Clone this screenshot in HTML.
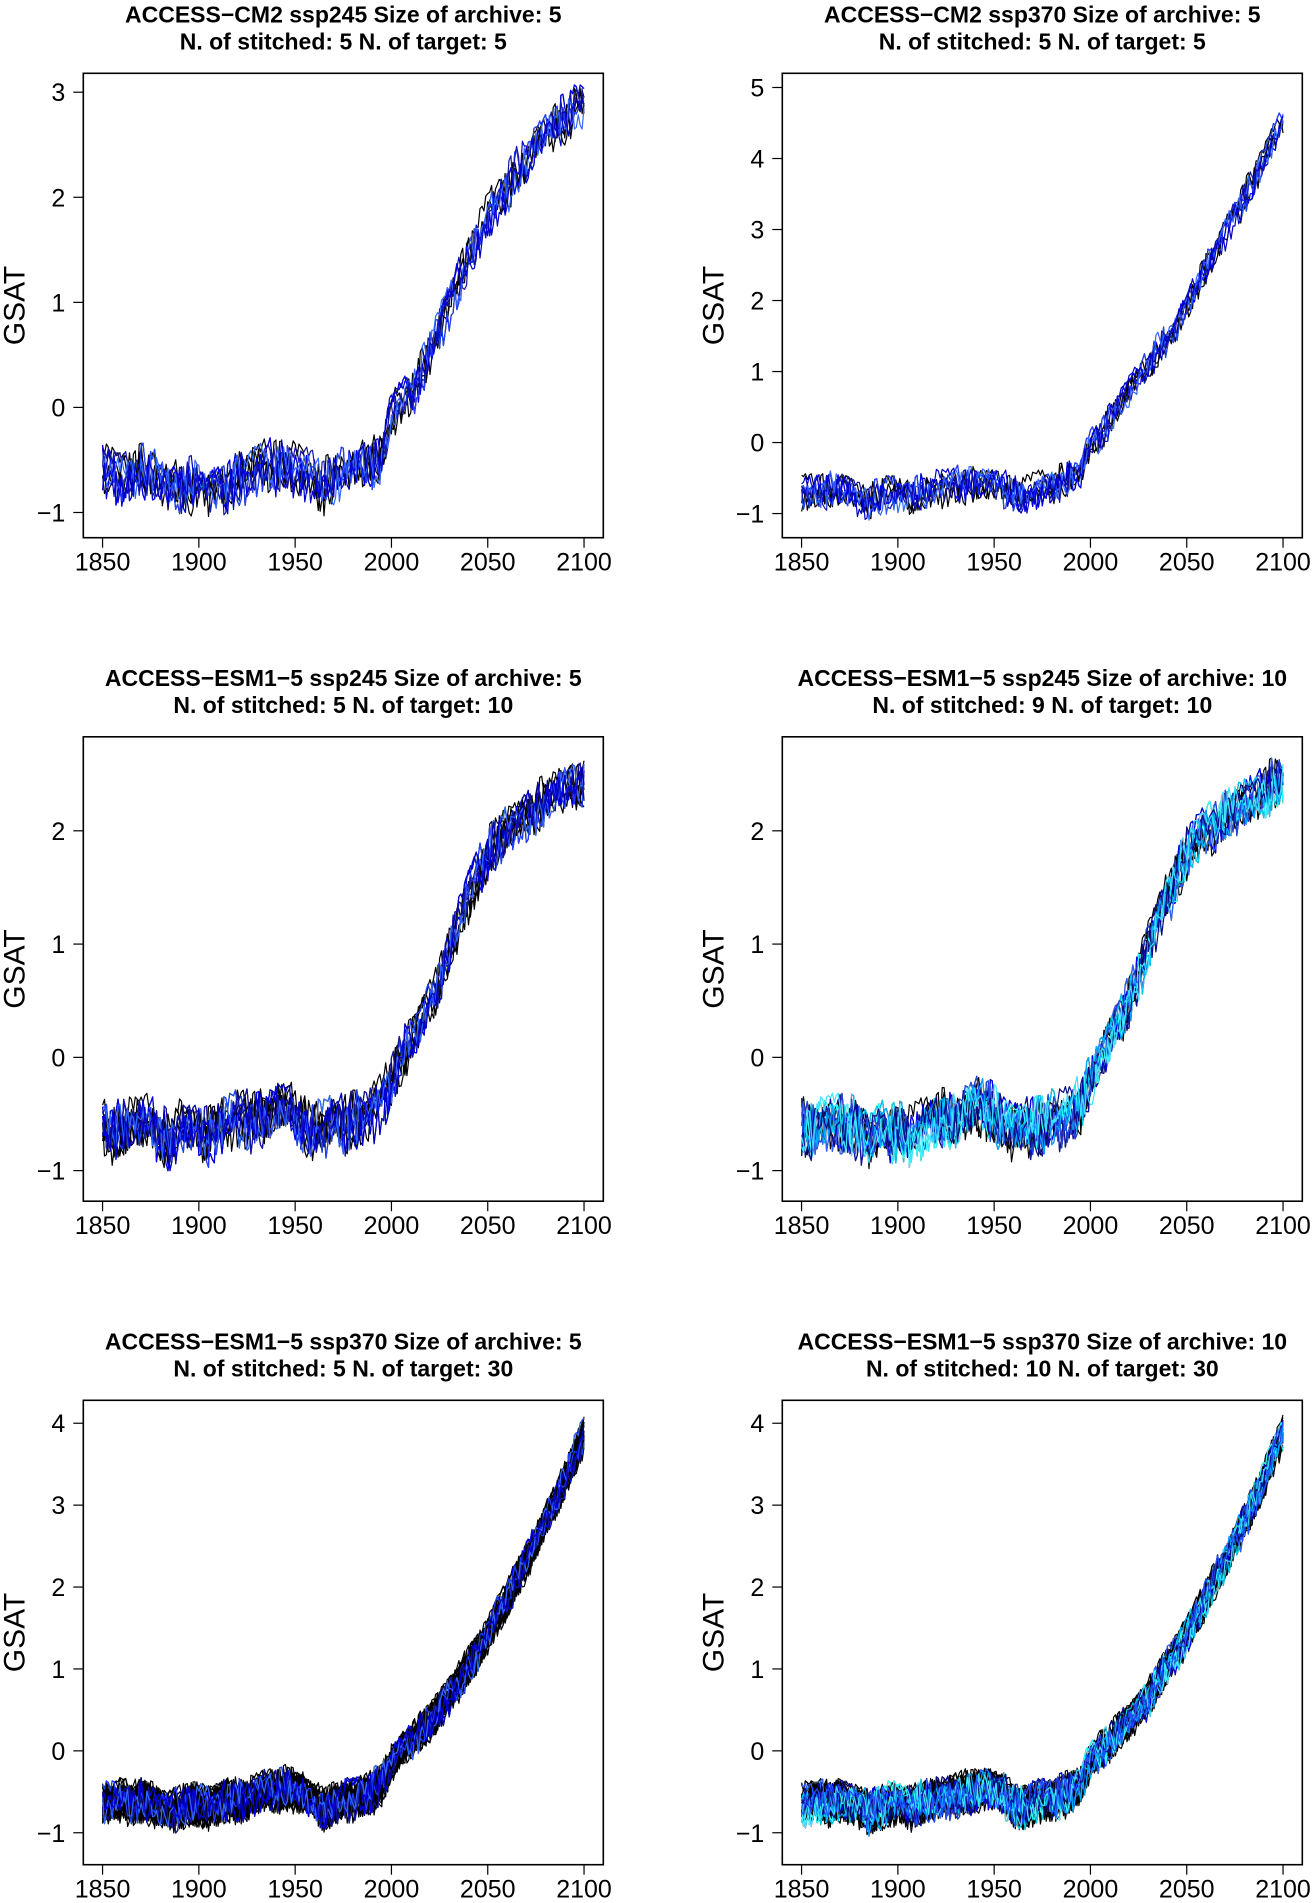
<!DOCTYPE html>
<html><head><meta charset="utf-8"><style>
html,body{margin:0;padding:0;background:#fff;}
svg{display:block;font-family:"Liberation Sans",Arial,sans-serif;}
</style></head><body>
<svg id="fig" width="1314" height="1903" viewBox="0 0 1314 1903"></svg>
<script>
// ---- data (5-year steps, 1850..2100) ----
const years5 = [1850,1855,1860,1865,1870,1875,1880,1885,1890,1895,1900,1905,1910,1915,1920,1925,1930,1935,1940,1945,1950,1955,1960,1965,1970,1975,1980,1985,1990,1995,2000,2005,2010,2015,2020,2025,2030,2035,2040,2045,2050,2055,2060,2065,2070,2075,2080,2085,2090,2095,2100];
const meanCM2_245 = [-0.6,-0.65,-0.7,-0.65,-0.6,-0.65,-0.7,-0.8,-0.75,-0.75,-0.7,-0.8,-0.75,-0.75,-0.65,-0.65,-0.6,-0.55,-0.55,-0.55,-0.6,-0.65,-0.7,-0.75,-0.7,-0.65,-0.6,-0.55,-0.5,-0.45,-0.05,0.05,0.15,0.3,0.5,0.75,0.95,1.2,1.4,1.6,1.8,1.95,2.1,2.25,2.35,2.5,2.6,2.7,2.75,2.85,2.85];
const meanCM2_370 = [-0.7,-0.7,-0.7,-0.65,-0.65,-0.7,-0.8,-0.8,-0.75,-0.75,-0.75,-0.75,-0.7,-0.7,-0.65,-0.65,-0.6,-0.6,-0.6,-0.6,-0.6,-0.65,-0.7,-0.7,-0.7,-0.65,-0.6,-0.55,-0.5,-0.45,-0.05,0.1,0.3,0.5,0.7,0.9,1.1,1.3,1.5,1.7,1.95,2.2,2.45,2.7,2.95,3.2,3.45,3.7,3.95,4.25,4.5];
const meanESM_245 = [-0.6,-0.65,-0.6,-0.6,-0.6,-0.6,-0.65,-0.75,-0.65,-0.65,-0.65,-0.7,-0.65,-0.6,-0.55,-0.55,-0.55,-0.5,-0.45,-0.45,-0.5,-0.6,-0.65,-0.65,-0.6,-0.6,-0.55,-0.55,-0.5,-0.4,-0.2,0.0,0.15,0.3,0.5,0.7,0.95,1.2,1.4,1.6,1.8,1.9,2.0,2.05,2.15,2.2,2.25,2.3,2.35,2.4,2.45];
const meanESM_370 = [-0.65,-0.65,-0.6,-0.65,-0.6,-0.65,-0.7,-0.75,-0.7,-0.65,-0.65,-0.7,-0.65,-0.6,-0.6,-0.6,-0.55,-0.5,-0.5,-0.45,-0.5,-0.55,-0.65,-0.7,-0.65,-0.6,-0.6,-0.55,-0.5,-0.4,-0.15,0.0,0.1,0.25,0.35,0.5,0.65,0.85,1.05,1.2,1.4,1.65,1.85,2.1,2.3,2.55,2.8,3.05,3.3,3.6,3.85];
const noise = [0.3,-0.8,0.5,0.9,-0.2,-0.6,0.7,-0.9,0.1,0.4,-0.5,0.8,-0.3,-0.7,0.6,0.2,-0.9,0.5,-0.1,0.9,-0.4,0.3,-0.8,0.7,0.0,-0.6,0.8,-0.2,0.4,-1.0,0.6,0.1,-0.5,0.9,-0.3,0.2,-0.7,0.5,0.8,-0.4,-0.1,0.6,-0.9,0.3,0.7,-0.5,0.2,-0.8,0.9,-0.2,0.4,-0.6,0.1,0.8,-0.7,0.5,-0.3,0.0,0.7,-0.9,0.6,-0.4,0.2,0.9,-0.6,0.3,-0.1,-0.8,0.5,0.7,-0.5,0.1,-0.3,0.8,-0.9,0.4,0.2,-0.6,0.9,-0.2,-0.4,0.6,-0.8,0.3,0.5,-0.7,0.0,0.8,-0.5,0.2,-0.9,0.7,0.4,-0.3,-0.6,0.9,0.1];
const xTicks = [1850,1900,1950,2000,2050,2100];
const leftBlues = ["#0000ee","#2040ff","#1515a5","#3366ff","#0000cc"];
const rightBlues = ["#0000ee","#1010a0","#3060ff","#00ccee","#33ffff","#2244dd","#00aaff","#0a0a80","#40e0ff","#1a50ff"];

const panels = [
 {name:"cm2-ssp245",t1:"ACCESS\u2212CM2 ssp245 Size of archive: 5",t2:"N. of stitched: 5 N. of target: 5",x:83.3,y:73.3,ylim:[-1.24,3.18],yt:[-1,0,1,2,3],mean:meanCM2_245,nT:5,nS:5,cols:leftBlues},
 {name:"cm2-ssp370",t1:"ACCESS\u2212CM2 ssp370 Size of archive: 5",t2:"N. of stitched: 5 N. of target: 5",x:782.3,y:73.3,ylim:[-1.34,5.2],yt:[-1,0,1,2,3,4,5],mean:meanCM2_370,nT:5,nS:5,cols:leftBlues},
 {name:"esm-ssp245-a5",t1:"ACCESS\u2212ESM1\u22125 ssp245 Size of archive: 5",t2:"N. of stitched: 5 N. of target: 10",x:83.3,y:736.8,ylim:[-1.27,2.83],yt:[-1,0,1,2],mean:meanESM_245,nT:10,nS:5,cols:leftBlues},
 {name:"esm-ssp245-a10",t1:"ACCESS\u2212ESM1\u22125 ssp245 Size of archive: 10",t2:"N. of stitched: 9 N. of target: 10",x:782.3,y:736.8,ylim:[-1.27,2.83],yt:[-1,0,1,2],mean:meanESM_245,nT:10,nS:9,cols:rightBlues},
 {name:"esm-ssp370-a5",t1:"ACCESS\u2212ESM1\u22125 ssp370 Size of archive: 5",t2:"N. of stitched: 5 N. of target: 30",x:83.3,y:1400.3,ylim:[-1.39,4.28],yt:[-1,0,1,2,3,4],mean:meanESM_370,nT:30,nS:5,cols:leftBlues},
 {name:"esm-ssp370-a10",t1:"ACCESS\u2212ESM1\u22125 ssp370 Size of archive: 10",t2:"N. of stitched: 10 N. of target: 30",x:782.3,y:1400.3,ylim:[-1.39,4.28],yt:[-1,0,1,2,3,4],mean:meanESM_370,nT:30,nS:10,cols:rightBlues}
];
const W=520,H=464.4,NS="http://www.w3.org/2000/svg";
const svg=document.getElementById('fig');
function mk(tag,attrs,parent){const e=document.createElementNS(NS,tag);for(const k in attrs)e.setAttribute(k,attrs[k]);parent.appendChild(e);return e;}
function meanAt(arr,yr){const f=(yr-1850)/5,i=Math.min(Math.floor(f),arr.length-2),t=f-i;return arr[i]*(1-t)+arr[i+1]*t;}

panels.forEach((p,pi)=>{
  const g=mk('g',{},svg);
  
  
  const sx=yr=>p.x+(yr-1840)*(W/270);
  const sy=v=>p.y+H-(v-p.ylim[0])/(p.ylim[1]-p.ylim[0])*H;
  const cx=p.x+W/2;
  const t1=mk('text',{x:cx,y:p.y-51,'text-anchor':'middle','font-size':23,'font-weight':'bold'},g);t1.textContent=p.t1;
  
  
  const t2=mk('text',{x:cx,y:p.y-24,'text-anchor':'middle','font-size':23,'font-weight':'bold'},g);t2.textContent=p.t2;
  
  
  const lines=mk('g',{fill:'none','stroke-width':1.2,'stroke-linejoin':'round'},g);
  
  
  const L=noise.length;
  const draw=(k,col,amp)=>{
    let pts=[];
    for(let y=0;y<=250;y++){
      const yr=1850+y;
      const a=yr<2000?amp*1.2:amp;
      const v=meanAt(p.mean,yr)+noise[(y*5+k*23+pi*7)%L]*a+noise[(Math.floor(y/7)*3+k*11+pi)%L]*0.11;
      pts.push(sx(yr).toFixed(1)+','+sy(v).toFixed(1));
    }
    const pl=mk('polyline',{points:pts.join(' '),stroke:col},lines);
    
    
  };
  for(let k=0;k<p.nT;k++)draw(k,'#000',0.17);
  for(let k=0;k<p.nS;k++)draw(100+k,p.cols[k%p.cols.length],0.17);
  const box=mk('rect',{x:p.x,y:p.y,width:W,height:H,fill:'none',stroke:'#000','stroke-width':1.6},g);
  
  
  xTicks.forEach(t=>{
    const X=sx(t);
    const tk=mk('line',{x1:X,x2:X,y1:p.y+H,y2:p.y+H+10,stroke:'#000','stroke-width':1.2},g);
    
    
    const lb=mk('text',{x:X,y:p.y+H+33,'text-anchor':'middle','font-size':25},g);lb.textContent=t;
    
    
  });
  p.yt.forEach(t=>{
    const Y=sy(t);
    const tk=mk('line',{x1:p.x-10,x2:p.x,y1:Y,y2:Y,stroke:'#000','stroke-width':1.2},g);
    
    
    const lb=mk('text',{x:p.x-18,y:Y+9,'text-anchor':'end','font-size':25},g);lb.textContent=t<0?'\u2212'+(-t):t;
    
    
  });
  const yl=mk('text',{x:0,y:0,'text-anchor':'middle','font-size':30,transform:`translate(${p.x-59},${p.y+H/2}) rotate(-90)`},g);yl.textContent='GSAT';
  
  
});
</script>
</body></html>
